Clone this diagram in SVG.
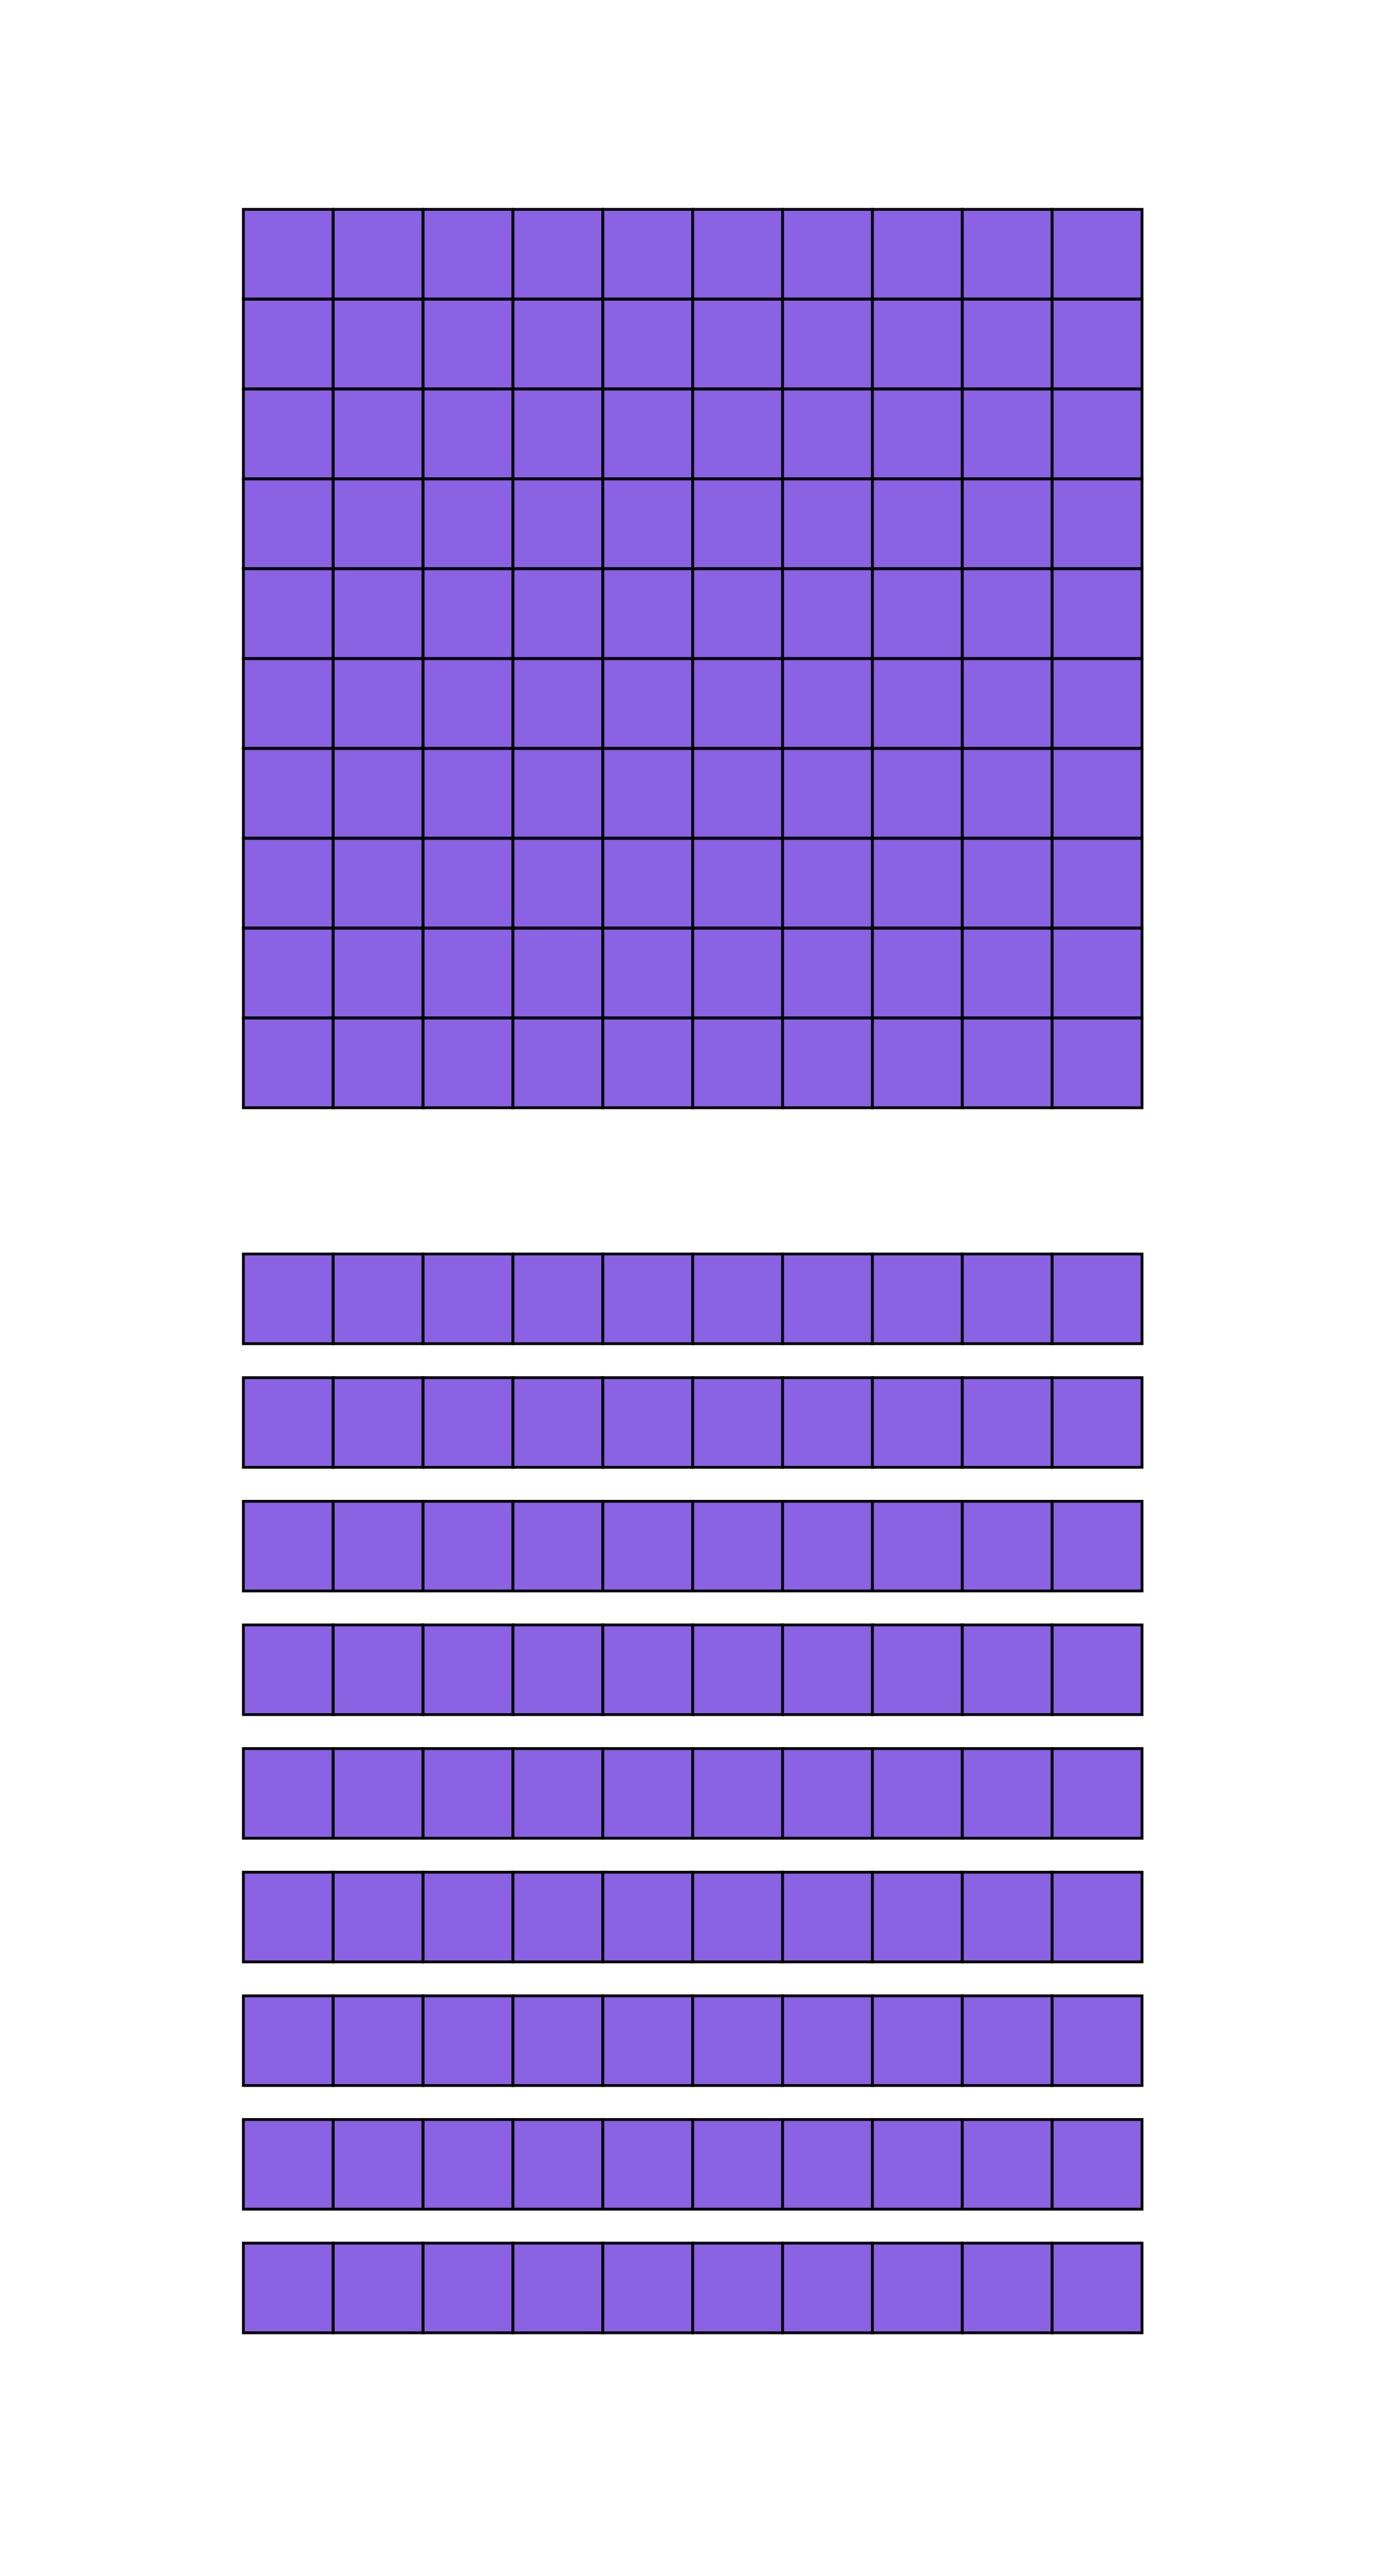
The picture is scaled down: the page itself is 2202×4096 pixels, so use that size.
<svg xmlns="http://www.w3.org/2000/svg" xmlns:xlink="http://www.w3.org/1999/xlink" width="2202" height="4096" viewBox="0 0 2202 4096">
<style>
.cell{fill:#8A62E3;stroke:#000;stroke-width:4.5}
</style>
<defs>
<g id="cellrow">
<rect class="cell" x="394" y="0" width="145.5" height="145.2"/>
<rect class="cell" x="539.5" y="0" width="145.5" height="145.2"/>
<rect class="cell" x="685" y="0" width="145.5" height="145.2"/>
<rect class="cell" x="830.5" y="0" width="145.5" height="145.2"/>
<rect class="cell" x="976" y="0" width="145.5" height="145.2"/>
<rect class="cell" x="1121.5" y="0" width="145.5" height="145.2"/>
<rect class="cell" x="1267" y="0" width="145.5" height="145.2"/>
<rect class="cell" x="1412.5" y="0" width="145.5" height="145.2"/>
<rect class="cell" x="1558" y="0" width="145.5" height="145.2"/>
<rect class="cell" x="1703.5" y="0" width="145.5" height="145.2"/>
</g>
</defs>
<rect width="2202" height="4096" fill="#fff"/>
<g transform="scale(0.982)">
<g id="hundred-grid">
<use xlink:href="#cellrow" href="#cellrow" y="339"/>
<use xlink:href="#cellrow" href="#cellrow" y="484.5"/>
<use xlink:href="#cellrow" href="#cellrow" y="630"/>
<use xlink:href="#cellrow" href="#cellrow" y="775.5"/>
<use xlink:href="#cellrow" href="#cellrow" y="921"/>
<use xlink:href="#cellrow" href="#cellrow" y="1066.5"/>
<use xlink:href="#cellrow" href="#cellrow" y="1212"/>
<use xlink:href="#cellrow" href="#cellrow" y="1357.5"/>
<use xlink:href="#cellrow" href="#cellrow" y="1503"/>
<use xlink:href="#cellrow" href="#cellrow" y="1648.5"/>
</g>
<g id="ten-row-1"><use xlink:href="#cellrow" href="#cellrow" y="2030.5"/></g>
<g id="ten-row-2"><use xlink:href="#cellrow" href="#cellrow" y="2230.7"/></g>
<g id="ten-row-3"><use xlink:href="#cellrow" href="#cellrow" y="2430.9"/></g>
<g id="ten-row-4"><use xlink:href="#cellrow" href="#cellrow" y="2631.1"/></g>
<g id="ten-row-5"><use xlink:href="#cellrow" href="#cellrow" y="2831.3"/></g>
<g id="ten-row-6"><use xlink:href="#cellrow" href="#cellrow" y="3031.5"/></g>
<g id="ten-row-7"><use xlink:href="#cellrow" href="#cellrow" y="3231.7"/></g>
<g id="ten-row-8"><use xlink:href="#cellrow" href="#cellrow" y="3431.9"/></g>
<g id="ten-row-9"><use xlink:href="#cellrow" href="#cellrow" y="3632.1"/></g>
</g>
</svg>
